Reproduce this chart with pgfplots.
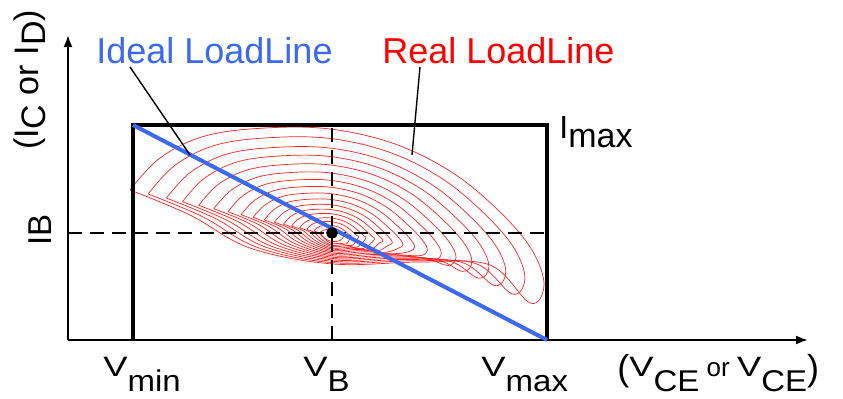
\documentclass[border=0pt]{standalone}
\usepackage{pgfplots}
\pgfplotsset{compat=1.18}
\usetikzlibrary{arrows.meta}
\usepackage{graphicx}
\usepackage{fontspec}
\setmainfont{Liberation Sans}
\definecolor{ideal}{RGB}{60,105,240}
\definecolor{loopc}{RGB}{255,35,35}
\newcommand{\V}[1]{{\fontsize{14}{15}\selectfont\scalebox{1.3}[1]{V}}\raisebox{-7.5pt}{\fontsize{15}{16}\selectfont\scalebox{1.1}[1]{#1}}}
\pgfplotsset{loopline/.style={draw=loopc, line width=0.35pt, smooth, tension=0.6, mark=none}}
\begin{document}
\begin{tikzpicture}
\begin{axis}[x=0.5pt, y=0.5pt, xmin=68, xmax=808, ymin=0, ymax=305,
  axis lines=left,
  axis line style={line width=1pt, -{Latex[length=6pt,width=4.5pt]}},
  xtick=\empty, ytick=\empty, clip=false]
% real load line loops
\addplot[loopline] coordinates {(130,150) (160,182) (205,204) (265,212) (330,211) (395,196) (453,167) (500,128) (532,90) (544,55) (530,37) (490,75) (420,78) (333,76) (250,92) (190,125) (130,150)};
\addplot[loopline] coordinates {(148.2,146.0) (175.5,175.1) (216.4,195.1) (271.0,202.4) (330.2,201.5) (389.3,187.8) (442.1,161.4) (484.9,125.9) (514,92.0) (524.9,61.6) (512.2,46.0) (475.8,76.4) (412.1,79.2) (332.9,77.3) (257.4,92.6) (202.8,123.2) (148.2,146.0)};
\addplot[loopline] coordinates {(166.4,141.9) (191.0,168.1) (227.9,186.2) (277.1,192.7) (330.4,191.9) (383.7,179.6) (431.2,155.8) (469.8,123.9) (496,93.9) (505.8,67.8) (494.4,54.5) (461.6,77.8) (404.2,80.5) (332.8,78.7) (264.8,93.2) (215.6,121.4) (166.4,141.9)};
\addplot[loopline] coordinates {(182.5,138.3) (204.7,162.0) (238.0,178.3) (282.4,184.2) (330.5,183.4) (378.6,172.3) (421.5,150.9) (456.3,122.0) (480,95.5) (488.9,73.2) (478.5,61.8) (448.9,79.2) (397.1,81.8) (332.7,80.1) (271.3,93.8) (226.9,119.8) (182.5,138.3)};
\addplot[loopline] coordinates {(198.7,134.7) (218.5,155.8) (248.2,170.3) (287.8,175.6) (330.7,175.0) (373.6,165.1) (411.9,145.9) (442.9,120.2) (464,97.0) (471.9,78.2) (462.7,68.6) (436.3,80.6) (390.1,83.1) (332.7,81.5) (277.9,94.4) (238.3,118.2) (198.7,134.7)};
\addplot[loopline] coordinates {(213.8,131.3) (231.4,150.0) (257.7,162.9) (292.8,167.6) (330.8,167.0) (368.9,158.2) (402.8,141.3) (430.3,118.5) (449,98.3) (456.0,82.6) (447.8,74.5) (424.4,82.0) (383.5,84.3) (332.6,82.8) (284.0,95.1) (248.9,116.7) (213.8,131.3)};
\addplot[loopline] coordinates {(228.0,128.2) (243.4,144.7) (266.6,156.0) (297.5,160.1) (331.0,159.6) (364.4,151.9) (394.3,136.9) (418.5,116.8) (435,99.4) (441.2,86.5) (434.0,79.8) (413.4,83.5) (377.3,85.6) (332.5,84.2) (289.8,95.7) (258.9,115.3) (228.0,128.2)};
\addplot[loopline] coordinates {(241.1,125.3) (254.6,139.7) (274.8,149.6) (301.8,153.2) (331.1,152.7) (360.4,146.0) (386.5,132.9) (407.6,115.4) (422,100.5) (427.4,89.9) (421.1,84.5) (403.1,84.9) (371.6,86.9) (332.5,85.5) (295.1,96.3) (268.1,114.0) (241.1,125.3)};
\addplot[loopline] coordinates {(253.2,122.6) (264.9,135.0) (282.5,143.6) (305.9,146.7) (331.2,146.3) (356.6,140.5) (379.2,129.2) (397.5,114.0) (410,101.4) (414.7,92.8) (409.2,88.5) (393.6,86.3) (366.3,88.2) (332.4,86.9) (300.0,96.9) (276.6,112.8) (253.2,122.6)};
\addplot[loopline] coordinates {(264.3,120.1) (274.4,130.8) (289.5,138.2) (309.6,140.8) (331.3,140.5) (353.1,135.5) (372.5,125.8) (388.3,112.7) (399,102.1) (403.0,95.3) (398.3,91.8) (384.9,87.6) (361.5,89.4) (332.3,88.2) (304.5,97.5) (284.4,111.7) (264.3,120.1)};
\addplot[loopline] coordinates {(274.4,117.8) (283.0,126.9) (295.8,133.2) (312.9,135.5) (331.4,135.2) (350.0,130.9) (366.5,122.7) (379.9,111.6) (389,102.7) (392.4,97.4) (388.4,94.7) (377.0,89.0) (357.1,90.6) (332.3,89.5) (308.6,98.1) (291.5,110.7) (274.4,117.8)};
\addplot[loopline] coordinates {(283.5,115.8) (290.7,123.5) (301.5,128.8) (315.9,130.7) (331.5,130.4) (347.1,126.8) (361.0,119.9) (372.3,110.5) (380,103.2) (382.9,99.1) (379.5,97.0) (369.9,90.3) (353.1,91.8) (332.2,90.8) (312.3,98.6) (297.9,109.8) (283.5,115.8)};
\addplot[loopline] coordinates {(291.6,114.0) (297.6,120.4) (306.6,124.8) (318.6,126.4) (331.6,126.2) (344.6,123.2) (356.2,117.4) (365.6,109.6) (372,103.7) (374.4,100.5) (363.6,91.6) (349.6,92.9) (332.2,92.0) (315.6,99.2) (303.6,109.0) (291.6,114.0)};
\addplot[loopline] coordinates {(299.7,112.2) (304.5,117.3) (311.7,120.8) (321.3,122.1) (331.7,122.0) (342.1,119.6) (351.4,114.9) (358.9,108.7) (364,104.0) (365.9,101.8) (357.3,93.0) (346.1,94.2) (332.2,93.4) (318.9,99.8) (309.3,108.2) (299.7,112.2)};
\addplot[loopline] coordinates {(306.7,110.6) (310.5,114.6) (316.1,117.4) (323.6,118.4) (331.7,118.3) (339.9,116.4) (347.1,112.8) (353.0,107.9) (357,104.3) (358.5,102.8) (351.8,94.4) (343.0,95.4) (332.1,94.7) (321.7,100.4) (314.2,107.5) (306.7,110.6)};
\addplot[loopline] coordinates {(313.8,109.1) (316.5,111.9) (320.6,113.9) (326.0,114.6) (331.8,114.5) (337.7,113.2) (342.9,110.6) (347.1,107.1) (350,104.6) (351.1,103.6) (346.2,96.0) (339.9,96.9) (332.1,96.3) (324.6,101.1) (319.2,106.8) (313.8,109.1)};
\addplot[loopline] coordinates {(320,107.5) (324,110) (332,111) (339,109.5) (343,106.5) (344,104) (340,99.5) (332,98.5) (325,101.5) (320,107.5)};
% box
\addplot[black, line width=1.7pt, line join=miter, mark=none] coordinates {(133,0) (133,215) (547,215) (547,0)};
% dashed lines
\addplot[black, line width=0.8pt, dash pattern=on 7pt off 4pt, mark=none] coordinates {(332,0) (332,215)};
\addplot[black, line width=0.8pt, dash pattern=on 7pt off 4pt, mark=none] coordinates {(68,107) (547,107)};
% ideal load line
\addplot[ideal, line width=2pt, mark=none] coordinates {(133,215) (547,0)};
% leader lines
\addplot[black, line width=0.7pt, mark=none] coordinates {(130,273) (190,185)};
\addplot[black, line width=0.7pt, mark=none] coordinates {(420,273) (412,185)};
% bias point
\addplot[only marks, mark=*, mark size=2.7pt, black] coordinates {(332,107)};
% labels
\node[anchor=base west, inner sep=0pt, text=ideal, font=\fontsize{18}{20}\selectfont] at (axis cs:96,277) {Ideal LoadLine};
\node[anchor=base west, inner sep=0pt, text=red, font=\fontsize{18}{20}\selectfont] at (axis cs:382,277) {Real LoadLine};
\node[anchor=base west, inner sep=0pt] at (axis cs:559,202) {\fontsize{16}{18}\selectfont I\raisebox{-4.5pt}{\fontsize{17}{18}\selectfont max}};
\node[rotate=90, inner sep=0pt, font=\fontsize{16.5}{18}\selectfont] at (axis cs:40,110) {IB};
\node[rotate=90, inner sep=0pt, font=\fontsize{17}{18}\selectfont] at (axis cs:30,260) {(I\raisebox{-3.5pt}{C} or I\raisebox{-3.5pt}{D})};
\node[anchor=base west, inner sep=0pt] at (axis cs:103,-36) {\V{min}};
\node[anchor=base west, inner sep=0pt] at (axis cs:303,-36) {\V{B}};
\node[anchor=base west, inner sep=0pt] at (axis cs:481,-36) {\V{max}};
\node[anchor=base west, inner sep=0pt] at (axis cs:617,-36) {\raisebox{-2pt}{\fontsize{18}{20}\selectfont(}\V{CE}{\fontsize{13}{14}\selectfont\ or\ }\V{CE}\raisebox{-2pt}{\fontsize{18}{20}\selectfont)}};
\path (axis cs:0,-58) rectangle (axis cs:843,340);
\end{axis}
\end{tikzpicture}
\end{document}
